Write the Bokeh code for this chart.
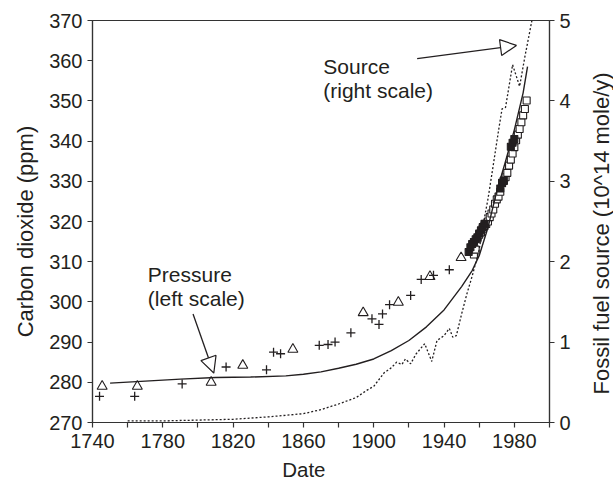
import math
from bokeh.plotting import figure
from bokeh.layouts import row
from bokeh.models import Range1d, LinearAxis, FixedTicker, Label, Arrow, NormalHead, Title
from bokeh.embed import file_html
from bokeh.resources import INLINE

# ---- data ----
cross_year = [1744, 1764, 1791, 1816, 1839, 1843, 1847, 1869, 1874, 1878, 1887,
              1899, 1903, 1905, 1909, 1921, 1927, 1934, 1943]
cross_ppm = [276.5, 276.5, 279.6, 283.8, 283.1, 287.5, 287.1, 289.2, 289.4, 290.0, 292.3,
             295.8, 294.4, 297.0, 299.3, 301.6, 305.6, 306.6, 308.0]

tri_year = [1745.5, 1765.5, 1807.5, 1825.5, 1854, 1894, 1914, 1932, 1949.7]
tri_ppm = [279.0, 279.0, 280.0, 284.2, 288.2, 297.3, 299.9, 306.3, 311.0]

open_sq_year = [1957, 1958, 1959, 1960, 1961, 1962, 1963, 1964, 1965, 1966, 1967, 1968,
                1969, 1970, 1971, 1972, 1973, 1974, 1975, 1976, 1977, 1978, 1979, 1980,
                1981, 1982, 1983, 1984, 1985, 1986, 1987]
open_sq_ppm = [311.8, 313.0, 315.8, 316.7, 317.3, 318.2, 318.9, 319.4, 320.0, 321.1, 322.0,
               323.0, 324.4, 325.5, 326.2, 327.4, 329.5, 330.1, 331.0, 332.1, 333.9, 335.4,
               336.9, 338.5, 340.2, 341.6, 343.0, 344.7, 346.4, 348.0, 350.1]

fill_sq_year = [1954, 1955, 1956, 1957, 1958, 1959, 1960, 1961, 1962, 1963,
                1972, 1973, 1974, 1978, 1979, 1980]
fill_sq_ppm = [312.4, 313.6, 314.4, 314.9, 315.6, 316.1, 317.0, 317.8, 318.6, 319.4,
               328.2, 329.6, 330.2, 338.6, 339.6, 340.5]

model_year = [1750, 1770, 1790, 1810, 1830, 1850, 1860, 1870, 1880, 1890, 1900, 1910,
              1920, 1930, 1940, 1950, 1956, 1960, 1965, 1970, 1975, 1980, 1985, 1987.5]
model_ppm = [279.8, 280.3, 280.8, 281.2, 281.3, 281.6, 282.0, 282.6, 283.5, 284.5, 285.8,
             287.9, 290.4, 293.8, 298.0, 303.8, 307.8, 311.5, 318.5, 327.5, 335.0, 342.8,
             352.0, 358.5]

src_year = [1760, 1780, 1800, 1820, 1840, 1850, 1860, 1870, 1880, 1890, 1896, 1900, 1906,
            1910, 1913, 1916, 1918, 1921, 1924, 1929, 1933, 1936, 1940, 1943, 1945,
            1947, 1950, 1953, 1956, 1960, 1962, 1965, 1968, 1971, 1973, 1975, 1979,
            1983, 1986, 1990]
src_val = [0.02, 0.02, 0.03, 0.04, 0.07, 0.09, 0.11, 0.16, 0.23, 0.31, 0.40, 0.45, 0.62,
           0.68, 0.75, 0.72, 0.79, 0.73, 0.85, 0.98, 0.76, 1.02, 1.08, 1.17, 1.06,
           1.08, 1.35, 1.60, 1.82, 2.15, 2.43, 2.78, 3.20, 3.63, 3.90, 3.92, 4.45,
           4.18, 4.55, 5.00]

x_ticks = [1740, 1780, 1820, 1860, 1900, 1940, 1980]
x_minor = [1760, 1800, 1840, 1880, 1920, 1960, 2000]
left_ticks = [270, 280, 290, 300, 310, 320, 330, 340, 350, 360, 370]
right_ticks = [0, 1, 2, 3, 4, 5]

x_title = "Date"
left_title = "Carbon dioxide (ppm)"
right_title = "Fossil fuel source (10^14  mole/y)"

INK = "#231f20"
AX = "#333333"
FONT = "Liberation Sans"

H = 487


def blank(width, xr, yr):
    f = figure(width=width, height=H, output_backend="svg", toolbar_location=None,
               x_range=xr, y_range=yr, x_axis_type=None, y_axis_type=None,
               min_border_left=0, min_border_right=0, min_border_top=20,
               min_border_bottom=65)
    f.grid.visible = False
    f.outline_line_color = None
    f.background_fill_color = "white"
    f.border_fill_color = "white"
    return f


p = figure(width=540, height=H, output_backend="svg", toolbar_location=None,
           x_range=Range1d(1740, 2000), y_range=Range1d(270, 370),
           min_border_left=52, min_border_right=31, min_border_top=20, min_border_bottom=65)
p.extra_y_ranges = {"src": Range1d(0, 5)}
p.grid.visible = False
p.outline_line_color = AX
p.outline_line_width = 1.2
p.background_fill_color = "white"
p.border_fill_color = "white"

xa = p.xaxis[0]
xa.ticker = FixedTicker(ticks=x_ticks, minor_ticks=x_minor)
ya = p.yaxis[0]
ya.ticker = FixedTicker(ticks=left_ticks, minor_ticks=[])
ra = LinearAxis(y_range_name="src", ticker=FixedTicker(ticks=right_ticks, minor_ticks=[]))
p.add_layout(ra, "right")

for ax in (xa, ya, ra):
    ax.axis_line_color = AX
    ax.axis_line_width = 1.2
    ax.major_tick_line_color = AX
    ax.minor_tick_line_color = AX
    ax.major_tick_line_width = 1.2
    ax.minor_tick_line_width = 1.2
    ax.major_tick_in = 0
    ax.major_tick_out = 5
    ax.minor_tick_in = 0
    ax.minor_tick_out = 5
    ax.major_label_text_font = FONT
    ax.major_label_text_font_size = "20px"
    ax.major_label_text_color = INK

xa.major_label_standoff = 6
ya.major_label_standoff = 5
ra.major_label_standoff = 5

# x-axis title as a bottom title, offset to where the reference has it
p.add_layout(Title(text=x_title, align="left", offset=189.7, standoff=10,
                   text_font=FONT, text_font_size="20.5px", text_font_style="normal",
                   text_color=INK), "below")

# data marks
p.scatter(cross_year, cross_ppm, marker="cross", size=9, line_color=INK, line_width=1.3)
p.scatter(tri_year, tri_ppm, marker="triangle", size=10, line_color=INK, line_width=1.1,
          fill_color=None)
p.scatter(open_sq_year, open_sq_ppm, marker="square", size=7, line_color=INK, line_width=1.1,
          fill_color="white")
p.scatter(fill_sq_year, fill_sq_ppm, marker="square", size=7, line_color=INK, line_width=1.1,
          fill_color=INK)
p.line(model_year, model_ppm, line_color=INK, line_width=1.4)
p.line(src_year, src_val, y_range_name="src", line_color=INK, line_width=1.3,
       line_dash="2 2")

# in-plot annotations
for t, xx, yy in [("Source", 1871.3, 358.6), ("(right scale)", 1871.3, 352.6),
                  ("Pressure", 1771.5, 306.7), ("(left scale)", 1771.5, 300.8)]:
    p.add_layout(Label(x=xx, y=yy, text=t, text_font=FONT, text_font_size="21px",
                       text_color=INK, text_align="left", text_baseline="alphabetic"))

p.add_layout(Arrow(end=NormalHead(size=16, fill_color="white", line_color=INK, line_width=1.2),
                   x_start=1924.7, y_start=360.5, x_end=1981.2, y_end=363.8,
                   line_color=INK, line_width=1.3))
p.add_layout(Arrow(end=NormalHead(size=16, fill_color="white", line_color=INK, line_width=1.2),
                   x_start=1797.2, y_start=297.0, x_end=1809.0, y_end=282.3,
                   line_color=INK, line_width=1.3))

# vertical axis titles, in narrow side panels (both read bottom-to-top)
left = blank(40, Range1d(0, 40), Range1d(270, 370))
left.add_layout(Label(x=25.3, y=317.5, text=left_title, angle=math.pi / 2,
                      text_font=FONT, text_font_size="22px", text_color=INK,
                      text_align="center", text_baseline="middle"))

right = blank(33, Range1d(0, 33), Range1d(270, 370))
right.add_layout(Label(x=20.5, y=317.8, text=right_title, angle=math.pi / 2,
                       text_font=FONT, text_font_size="22px", text_color=INK,
                       text_align="center", text_baseline="middle"))

layout = row(left, p, right, spacing=0)
open("out.html", "w").write(file_html(layout, INLINE))
